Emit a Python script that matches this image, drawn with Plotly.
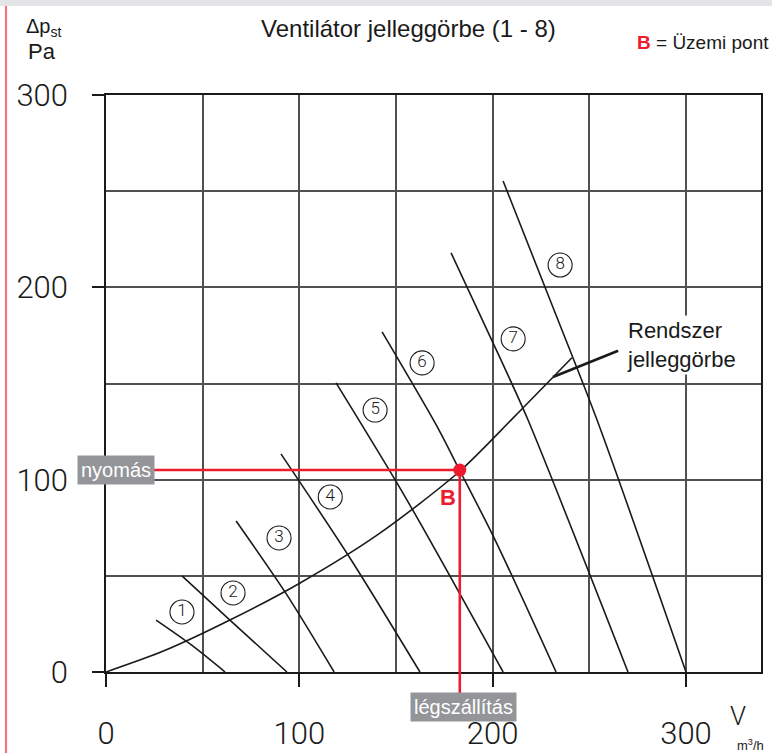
import plotly.graph_objects as go

# ---------------- data ----------------
FAN_X = {
    1: [25.9, 44.0, 61.6],
    2: [39.3, 64.1, 93.6],
    3: [67.3, 93.0, 118.0],
    4: [90.5, 127.0, 162.4],
    5: [119.0, 155.7, 205.4],
    6: [142.8, 171.7, 183.1, 201.3, 232.8],
    7: [178.5, 203.8, 218.3, 270.0],
    8: [205.4, 229.7, 254.0, 300.0],
}
FAN_Y = {
    1: [27.0, 14.2, 0.0],
    2: [50.0, 27.0, 0.0],
    3: [78.5, 41.0, 0.0],
    4: [113.4, 58.0, 0.0],
    5: [150.3, 89.4, 0.0],
    6: [176.8, 126.8, 104.5, 68.6, 0.0],
    7: [217.9, 163.3, 131.0, 0.0],
    8: [255.3, 193.4, 131.0, 0.0],
}
LABEL_X = [39.3, 65.7, 89.5, 116.0, 139.2, 163.5, 210.6, 234.9]
LABEL_Y = [31.2, 41.1, 69.7, 91.0, 136.2, 160.7, 173.2, 211.6]
LABEL_TXT = ["1", "2", "3", "4", "5", "6", "7", "8"]

SYS_X = [0.0, 30.0, 64.1, 100.4, 140.0, 183.1, 210.5, 241.0]
SYS_Y = [0.0, 11.0, 27.0, 46.3, 71.0, 104.5, 132.0, 163.4]
LEAD_X = [231.2, 264.9]
LEAD_Y = [153.4, 167.0]

B_X = 183.0
B_Y = 105.0

X_TICKS = [0, 100, 200, 300]
X_TICKTEXT = ["0", "100", "200", "300"]
Y_TICKS = [0, 100, 200, 300]
Y_TICKTEXT = ["0", "100", "200", "300"]
MINOR = [50, 150, 250]
X_MAX = 338.8
Y_MAX = 300

W, H = 772, 753
L, R, T, B = 106, 11, 95, 81
PW, PH = W - L - R, H - T - B


def px(xp):
    return (xp - L) / PW


def py(yp):
    return (H - B - yp) / PH


RED = "#ec1c2e"
GRID = "#505050"
INK = "#1a1a1a"
THIN = "Roboto, sans-serif"
ARIAL = "Liberation Sans, Arial, sans-serif"

fig = go.Figure()

for k in FAN_X:
    fig.add_trace(go.Scatter(x=FAN_X[k], y=FAN_Y[k], mode="lines",
                             line=dict(color=INK, width=1.6, shape="spline", smoothing=0.8),
                             hoverinfo="skip", showlegend=False))

fig.add_trace(go.Scatter(x=SYS_X, y=SYS_Y, mode="lines",
                         line=dict(color=INK, width=1.6, shape="spline", smoothing=0.8),
                         hoverinfo="skip", showlegend=False))
fig.add_trace(go.Scatter(x=LEAD_X, y=LEAD_Y, mode="lines",
                         line=dict(color=INK, width=2.6),
                         hoverinfo="skip", showlegend=False))

fig.add_trace(go.Scatter(x=LABEL_X, y=LABEL_Y, mode="markers+text", text=LABEL_TXT,
                         textposition="middle center",
                         textfont=dict(family=THIN, size=17, weight=300, color=INK),
                         marker=dict(symbol="circle-open", size=24, color=INK,
                                     line=dict(width=1.1, color=INK)),
                         hoverinfo="skip", showlegend=False))

fig.add_trace(go.Scatter(x=[0, B_X], y=[B_Y, B_Y], mode="lines",
                         line=dict(color=RED, width=2.6), hoverinfo="skip", showlegend=False))
fig.add_shape(type="line", xref="x", yref="paper", x0=B_X, x1=B_X,
              y0=py(694), y1=B_Y / Y_MAX, line=dict(color=RED, width=2.6), layer="above")
fig.add_trace(go.Scatter(x=[B_X], y=[B_Y], mode="markers",
                         marker=dict(color=RED, size=13), hoverinfo="skip", showlegend=False))

# page frame decorations
fig.add_shape(type="rect", xref="paper", yref="paper", x0=px(0), x1=px(W), y0=py(6), y1=py(0),
              fillcolor="#e4e4e6", line=dict(width=0), layer="below")
fig.add_shape(type="line", xref="paper", yref="paper", x0=px(6), x1=px(6), y0=py(H), y1=py(6),
              line=dict(color="#f07782", width=2.2))

ann = []
ann.append(dict(text="Ventilátor jelleggörbe (1 - 8)", xref="paper", yref="paper",
                x=px(408), y=py(28), xanchor="center", yanchor="middle", showarrow=False,
                font=dict(family=ARIAL, size=24, color=INK)))
ann.append(dict(text="Δp<sub>st</sub>", xref="paper", yref="paper",
                x=px(24), y=py(27), xanchor="left", yanchor="middle", showarrow=False,
                font=dict(family=ARIAL, size=20, color=INK)))
ann.append(dict(text="Pa", xref="paper", yref="paper",
                x=px(26), y=py(52), xanchor="left", yanchor="middle", showarrow=False,
                font=dict(family=ARIAL, size=22, color=INK)))
ann.append(dict(text="<b><span style='color:%s'>B</span></b> = Üzemi pont" % RED,
                xref="paper", yref="paper",
                x=px(771), y=py(42), xanchor="right", yanchor="middle", showarrow=False,
                font=dict(family=ARIAL, size=19, color=INK)))
ann.append(dict(text="nyomás", xref="paper", yref="y", x=px(116), y=B_Y,
                xanchor="center", yanchor="middle", showarrow=False,
                bgcolor="#939598", borderpad=3,
                font=dict(family=ARIAL, size=20, color="white")))
ann.append(dict(text="légszállítás", xref="x", yref="paper", x=B_X + 2, y=py(707),
                xanchor="center", yanchor="middle", showarrow=False,
                bgcolor="#939598", borderpad=3,
                font=dict(family=ARIAL, size=20, color="white")))
ann.append(dict(text="<b>B</b>", xref="x", yref="y", x=B_X, y=B_Y, xshift=-12, yshift=-27,
                xanchor="center", yanchor="middle", showarrow=False,
                font=dict(family=ARIAL, size=22, color=RED)))
ann.append(dict(text="Rendszer<br>jelleggörbe", xref="paper", yref="paper",
                x=px(624), y=py(345), xanchor="left", yanchor="middle", align="left",
                showarrow=False, bgcolor="white", borderpad=2,
                font=dict(family=ARIAL, size=22, color=INK)))
ann.append(dict(text="V", xref="paper", yref="paper", x=px(738), y=py(716),
                xanchor="center", yanchor="middle", showarrow=False,
                font=dict(family=THIN, size=26, weight=300, color=INK)))
ann.append(dict(text="m<sup>3</sup>/h", xref="paper", yref="paper", x=px(750), y=py(745),
                xanchor="center", yanchor="middle", showarrow=False,
                font=dict(family=ARIAL, size=13, color=INK)))

fig.update_layout(
    template="none",
    width=W, height=H,
    margin=dict(l=L, r=R, t=T, b=B, pad=0, autoexpand=False),
    paper_bgcolor="white", plot_bgcolor="white",
    showlegend=False,
    annotations=ann,
    xaxis=dict(range=[0, X_MAX], showline=True, linecolor=INK, linewidth=1.6, mirror=True,
               automargin=False,
               ticks="outside", ticklen=13, tickwidth=1.6, tickcolor=INK,
               tickvals=X_TICKS, ticktext=X_TICKTEXT, ticklabelstandoff=20,
               tickfont=dict(family=THIN, size=31, weight=300, color=INK),
               showgrid=True, gridcolor=GRID, gridwidth=1.5, zeroline=False,
               minor=dict(tickvals=MINOR, showgrid=True, gridcolor=GRID, gridwidth=1.5, ticks="")),
    yaxis=dict(range=[0, Y_MAX], showline=True, linecolor=INK, linewidth=1.6, mirror=True,
               automargin=False,
               ticks="outside", ticklen=12, tickwidth=1.6, tickcolor=INK,
               tickvals=Y_TICKS, ticktext=Y_TICKTEXT, ticklabelstandoff=18,
               tickfont=dict(family=THIN, size=31, weight=300, color=INK),
               showgrid=True, gridcolor=GRID, gridwidth=1.5, zeroline=False,
               minor=dict(tickvals=MINOR, showgrid=True, gridcolor=GRID, gridwidth=1.5, ticks="")),
)

fig.write_html("out.html", config={"displayModeBar": False},
               post_script="document.body.style.margin='0';")
